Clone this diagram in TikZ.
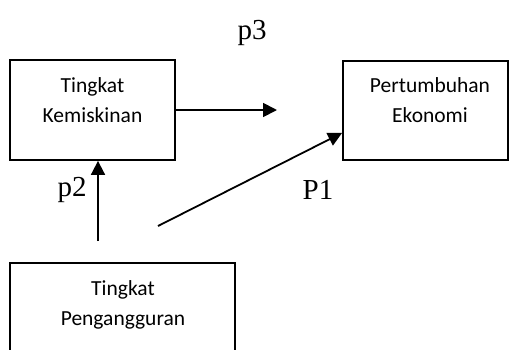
\documentclass[tikz,border=0pt]{standalone}
\usepackage{fontspec}
\setmainfont{Liberation Serif}
\newfontfamily\boxfont{Carlito}
\usetikzlibrary{arrows.meta,calc}
\tikzset{
  varbox/.style={draw, line width=1.8pt, rectangle, inner sep=0pt},
  boxtext/.style={font=\boxfont\fontsize{21.5}{29.5}\selectfont, align=center, anchor=north, inner sep=0pt},
  pathlabel/.style={font=\fontsize{29}{32}\selectfont, inner sep=0pt},
  link/.style={line width=1.8pt, -{Triangle[length=14pt,width=14pt]}}
}
\begin{document}
\begin{tikzpicture}[x=1pt,y=-1pt]
  \useasboundingbox (0,0) rectangle (510,349);
  % three variable boxes
  \node[varbox, minimum width=165pt, minimum height=100pt] (kem) at (92.5,110) {};
  \node[varbox, minimum width=165pt, minimum height=99pt] (eko) at (425.5,110.5) {};
  \node[varbox, minimum width=225pt, minimum height=110pt] (peng) at (122.5,318) {};
  % box captions
  \node[boxtext] (kemtxt) at (92.5,77.5) {Tingkat\\Kemiskinan};
  \node[boxtext] (ekotxt) at (430,77.5) {Pertumbuhan\\Ekonomi};
  \node[boxtext] (pengtxt) at (123,280.5) {Tingkat\\Pengangguran};
  % loose ends of the connectors
  \coordinate (p3end) at (277,110);
  \coordinate (p2start) at (98,241);
  \coordinate (p1start) at (158,226);
  \coordinate (p1end) at ($(eko.south west)+(0,-28)$);
  % connectors
  \draw[link] (kem.east) -- (p3end);
  \draw[link] (p2start) -- (p2start |- kem.south);
  \draw[link] (p1start) -- (p1end);
  % path labels
  \node[pathlabel] (p3) at (252,33) {p3};
  \node[pathlabel] (p2) at (72,190) {p2};
  \node[pathlabel] (p1) at (318,190) {P1};
\end{tikzpicture}
\end{document}
